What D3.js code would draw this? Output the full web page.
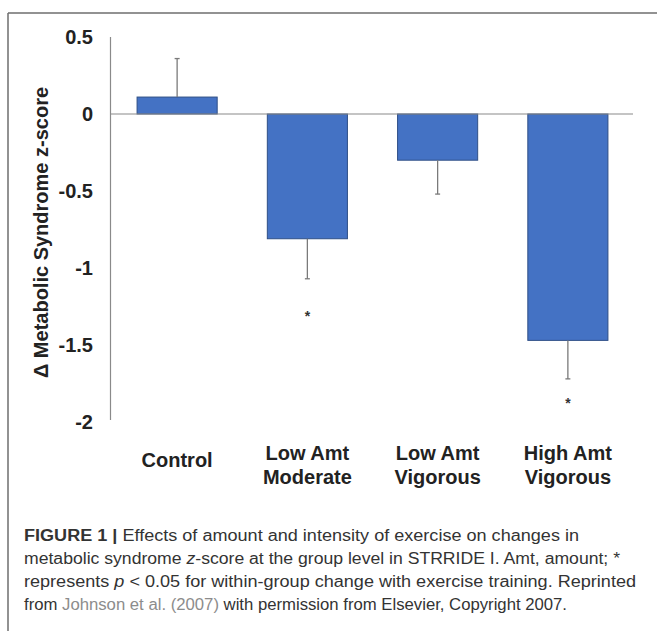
<!DOCTYPE html>
<html>
<head>
<meta charset="utf-8">
<script src="https://cdn.jsdelivr.net/npm/d3@7"></script>
<style>
  html, body { margin: 0; padding: 0; background: #fff; }
  svg { display: block; }
</style>
</head>
<body>
<svg id="chart" width="657" height="631"></svg>
<script>
// ---- data ----
const categories = [["Control"], ["Low Amt", "Moderate"], ["Low Amt", "Vigorous"], ["High Amt", "Vigorous"]];
const values = [0.11, -0.81, -0.30, -1.47];
const errors = [0.25, 0.26, 0.22, 0.25];
const significant = [false, true, false, true];
const starValues = [null, -1.29, null, -1.86];
const yTicks = [0.5, 0, -0.5, -1, -1.5, -2];
const yTickLabels = ["0.5", "0", "-0.5", "-1", "-1.5", "-2"];
const yTitle = "Δ Metabolic Syndrome z-score";

const svg = d3.select("#chart");
const W = 657, H = 631;

// frame
svg.append("line").attr("x1", 8).attr("x2", W).attr("y1", 13).attr("y2", 13)
  .attr("stroke", "#6e6e6e").attr("stroke-width", 1.5);
svg.append("line").attr("x1", 8).attr("x2", 8).attr("y1", 13).attr("y2", H)
  .attr("stroke", "#6e6e6e").attr("stroke-width", 1.5);

const x = d3.scaleBand().domain(d3.range(categories.length))
  .range([112, 633]).paddingInner(0.385).paddingOuter(0.1925);
const y = d3.scaleLinear().domain([-2, 0.5]).range([422, 37]);

const font = "'Liberation Sans', Arial, Helvetica, sans-serif";

// y axis line
svg.append("line").attr("x1", 110.5).attr("x2", 110.5)
  .attr("y1", y(0.5)).attr("y2", y(-2) - 2)
  .attr("stroke", "#8a8a8a").attr("stroke-width", 1.2);

// y tick labels
svg.append("g").selectAll("text").data(yTicks).join("text")
  .attr("x", 93).attr("y", d => y(d)).attr("dy", "0.36em")
  .attr("text-anchor", "end")
  .attr("font-family", font).attr("font-weight", "bold").attr("font-size", 20)
  .attr("fill", "#222")
  .text((d, i) => yTickLabels[i]);

// y title
svg.append("text")
  .attr("transform", `translate(48, ${(87 + 378) / 2}) rotate(-90)`)
  .attr("text-anchor", "middle")
  .attr("font-family", font).attr("font-weight", "bold").attr("font-size", 20)
  .attr("fill", "#222")
  .text(yTitle);

// bars
const idx = d3.range(values.length);
svg.append("g").selectAll("rect").data(idx).join("rect")
  .attr("x", i => x(i))
  .attr("width", x.bandwidth())
  .attr("y", i => y(Math.max(0, values[i])))
  .attr("height", i => Math.abs(y(values[i]) - y(0)))
  .attr("fill", "#4472c4")
  .attr("stroke", "#2f4f86").attr("stroke-width", 1);

// error bars (one-sided, away from zero)
const eb = svg.append("g").attr("stroke", "#7a7a7a").attr("stroke-width", 1.3);
idx.forEach(i => {
  const cx = x(i) + x.bandwidth() / 2;
  const sgn = values[i] >= 0 ? 1 : -1;
  const end = values[i] + sgn * errors[i];
  eb.append("line").attr("x1", cx).attr("x2", cx)
    .attr("y1", y(values[i])).attr("y2", y(end));
  eb.append("line").attr("x1", cx - 2.5).attr("x2", cx + 2.5)
    .attr("y1", y(end)).attr("y2", y(end));
});

// zero line
svg.append("line").attr("x1", 110).attr("x2", 633)
  .attr("y1", y(0)).attr("y2", y(0))
  .attr("stroke", "#8a8a8a").attr("stroke-width", 1.2);

// significance stars
svg.append("g").selectAll("text").data(idx.filter(i => significant[i])).join("text")
  .attr("x", i => x(i) + x.bandwidth() / 2)
  .attr("y", i => y(starValues[i]) + 8)
  .attr("text-anchor", "middle")
  .attr("font-family", font).attr("font-weight", "bold").attr("font-size", 14)
  .attr("fill", "#333")
  .text("*");

// category labels
const cat = svg.append("g");
categories.forEach((lines, i) => {
  const cx = x(i) + x.bandwidth() / 2;
  const t = cat.append("text")
    .attr("text-anchor", "middle")
    .attr("font-family", font).attr("font-weight", "bold").attr("font-size", 20)
    .attr("fill", "#222");
  if (lines.length === 1) {
    t.append("tspan").attr("x", cx).attr("y", 467).text(lines[0]);
  } else {
    lines.forEach((l, k) => t.append("tspan").attr("x", cx).attr("y", 460 + k * 24).text(l));
  }
});

// caption
const capFont = "'Liberation Sans', 'Helvetica Neue', Arial, sans-serif";
const capLines = [
  [{t: "FIGURE 1 | ", b: true}, {t: "Effects of amount and intensity of exercise on changes in"}],
  [{t: "metabolic syndrome "}, {t: "z", i: true}, {t: "-score at the group level in STRRIDE I. Amt, amount; *"}],
  [{t: "represents "}, {t: "p", i: true}, {t: " < 0.05 for within-group change with exercise training. Reprinted"}],
  [{t: "from "}, {t: "Johnson et al. (2007)", c: "#8c8c8c"}, {t: " with permission from Elsevier, Copyright 2007."}]
];
const capWidths = [555, 596, 612, 543];
capLines.forEach((parts, k) => {
  const t = svg.append("text")
    .attr("x", 24).attr("y", 541 + k * 23)
    .attr("font-family", capFont).attr("font-size", 16)
    .attr("fill", "#333")
    .attr("textLength", capWidths[k]).attr("lengthAdjust", "spacingAndGlyphs");
  parts.forEach(p => {
    const s = t.append("tspan").text(p.t);
    if (p.b) s.attr("font-weight", "bold");
    if (p.i) s.attr("font-style", "italic");
    if (p.c) s.attr("fill", p.c);
  });
});
</script>
</body>
</html>
